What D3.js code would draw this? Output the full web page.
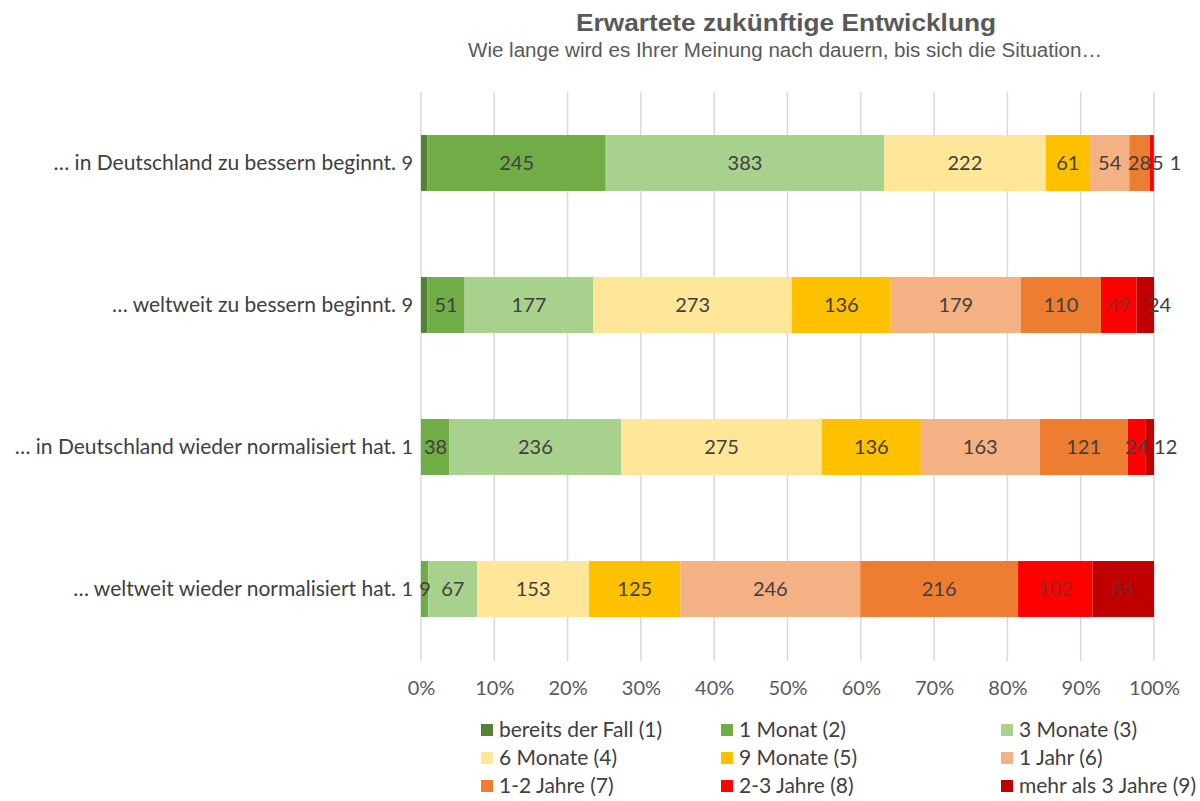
<!DOCTYPE html>
<html><head><meta charset="utf-8">
<script src="https://cdn.jsdelivr.net/npm/d3@7"></script>
<style>body{margin:0;background:#fff}svg{display:block}</style>
</head><body><svg id="c" width="1200" height="801"></svg>
<script>
const categories = [
  "… in Deutschland zu bessern beginnt.",
  "… weltweit zu bessern beginnt.",
  "… in Deutschland wieder normalisiert hat.",
  "… weltweit wieder normalisiert hat."
];
const seriesNames = ["bereits der Fall (1)","1 Monat (2)","3 Monate (3)","6 Monate (4)","9 Monate (5)","1 Jahr (6)","1-2 Jahre (7)","2-3 Jahre (8)","mehr als 3 Jahre (9)"];
const seriesColors = ["#548235","#70AD47","#A9D18E","#FFE699","#FFC000","#F4B183","#ED7D31","#FF0000","#C00000"];
const values = [
  [9, 245, 383, 222, 61, 54, 28, 5, 1],
  [9, 51, 177, 273, 136, 179, 110, 49, 24],
  [1, 38, 236, 275, 136, 163, 121, 24, 12],
  [1, 9, 67, 153, 125, 246, 216, 102, 84]
];
const tickValues = [0,0.1,0.2,0.3,0.4,0.5,0.6,0.7,0.8,0.9,1];
const titleText = "Erwartete zukünftige Entwicklung";
const subtitleText = "Wie lange wird es Ihrer Meinung nach dauern, bis sich die Situation…";

const svg = d3.select("#c");
const labelFont = "Lato, 'Open Sans', sans-serif";
const x = d3.scaleLinear().domain([0,1]).range([421,1154]);
const y = d3.scaleBand().domain(categories).range([92,660]).paddingInner(0.606).paddingOuter(0.303);

svg.append("text").attr("x",786).attr("y",31).attr("text-anchor","middle")
  .attr("font-family","'Liberation Sans', Arial, sans-serif").attr("font-weight","bold")
  .attr("font-size",24).attr("fill","#595959")
  .attr("textLength",420).attr("lengthAdjust","spacingAndGlyphs").text(titleText);
svg.append("text").attr("x",785).attr("y",57).attr("text-anchor","middle")
  .attr("font-family","'Liberation Sans', Arial, sans-serif")
  .attr("font-size",19.5).attr("fill","#595959")
  .attr("textLength",634).attr("lengthAdjust","spacingAndGlyphs").text(subtitleText);

// gridlines
svg.append("g").selectAll("line").data(tickValues).join("line")
  .attr("x1",d=>x(d)).attr("x2",d=>x(d)).attr("y1",92).attr("y2",661)
  .attr("stroke","#d9d9d9").attr("stroke-width",1.5);

// x axis labels
const xAxis = d3.axisBottom(x).tickValues(tickValues).tickFormat(d3.format(".0%")).tickSize(0).tickPadding(0);
const gx = svg.append("g").attr("transform","translate(0,681)").call(xAxis);
gx.select(".domain").remove();
gx.selectAll("text").attr("font-family",labelFont).attr("font-size",20).attr("fill","#595959");

// y axis labels
const yAxis = d3.axisLeft(y).tickSize(0).tickPadding(0);
const gy = svg.append("g").attr("transform","translate(396,0)").call(yAxis);
gy.select(".domain").remove();
gy.selectAll("text").attr("font-family",labelFont).attr("font-size",21).attr("fill","#404040");

// bars
const rows = categories.map((c,i)=>{
  const tot = d3.sum(values[i]);
  let acc = 0;
  return values[i].map((v,j)=>{ const s = acc/tot; acc += v; return {cat:c, j, v, x0:s, x1:acc/tot}; });
});
const g = svg.append("g");
rows.forEach(r=>{
  g.selectAll(null).data(r).join("rect")
    .attr("x",d=>x(d.x0)).attr("width",d=>x(d.x1)-x(d.x0))
    .attr("y",d=>y(d.cat)).attr("height",y.bandwidth())
    .attr("fill",d=>seriesColors[d.j]);
});

// labels
const numSize = 20;
const measure = svg.append("text").attr("font-family",labelFont).attr("font-size",numSize).attr("visibility","hidden");
function tw(t){ measure.text(t); return measure.node().getComputedTextLength(); }
rows.forEach(r=>{
  let prevRight = -Infinity;
  r.forEach((d,k)=>{
    const txt = String(d.v);
    const w = tw(txt);
    const a = x(d.x0), b = x(d.x1);
    let cx = (a+b)/2;
    if (k===0 && b-a < 12) {
      cx = a - 8 - w/2;
    } else if (k===r.length-1 && b-a < 25) {
      cx = Math.max(b - 6, prevRight + 6) + w/2;
    } else {
      cx = Math.max(cx, prevRight + 1 + w/2);
    }
    prevRight = cx + w/2;
    const onRed = d.j>=7 && (b-a)>=25;
    g.append("text").attr("x",cx).attr("y",y(d.cat)+y.bandwidth()/2).attr("dy","0.35em")
      .attr("text-anchor","middle").attr("font-family",labelFont).attr("font-size",numSize)
      .attr("fill","#404040").attr("fill-opacity", onRed ? 0.6 : 1).text(txt);
  });
});

// legend
const colX = [481,721,1001], rowY = [730,758,786];
const lg = svg.append("g");
seriesNames.forEach((n,i)=>{
  const cx = colX[i%3], cy = rowY[Math.floor(i/3)];
  lg.append("rect").attr("x",cx).attr("y",cy-6).attr("width",12).attr("height",12).attr("fill",seriesColors[i]);
  lg.append("text").attr("x",cx+18).attr("y",cy).attr("dy","0.35em")
    .attr("font-family",labelFont).attr("font-size",21).attr("fill","#404040").text(n);
});
</script></body></html>
